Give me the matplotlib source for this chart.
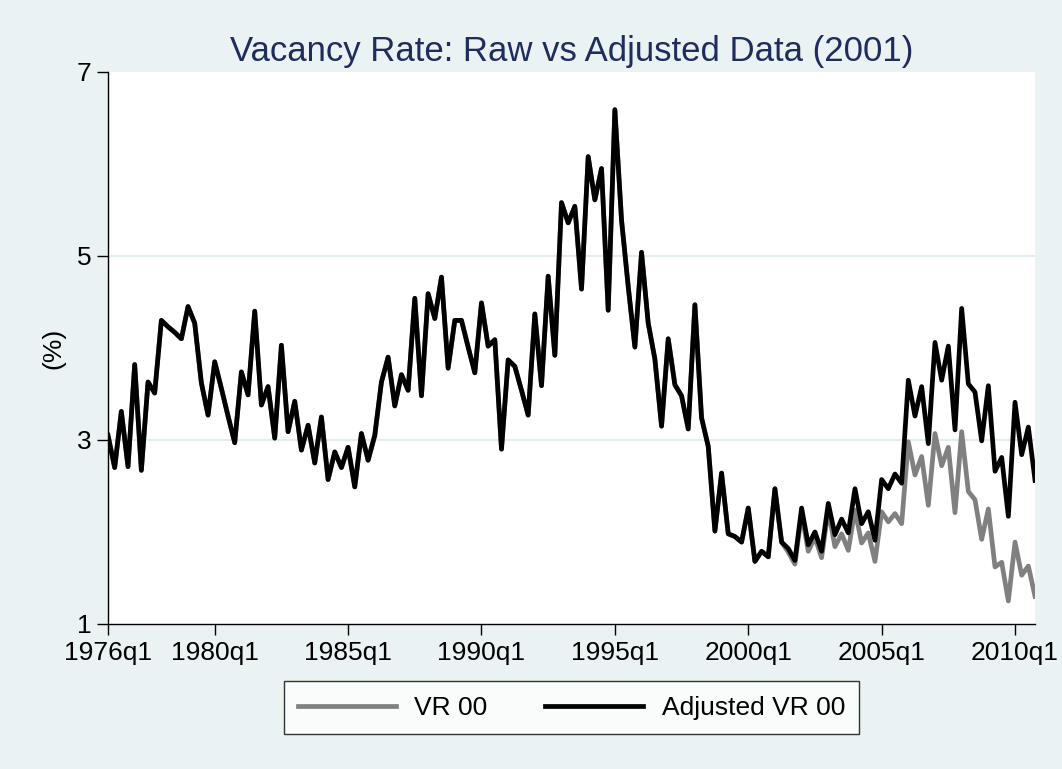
import matplotlib.pyplot as plt

# Quarterly vacancy rate, 1976q1 .. 2010q4 (140 quarters)
adjusted_vr00 = [
    3.05, 2.70, 3.31, 2.71, 3.82, 2.67, 3.63, 3.51, 4.30, 4.23,   # 1976q1-1978q2
    4.17, 4.10, 4.45, 4.27, 3.62, 3.27, 3.85, 3.56, 3.26, 2.97,   # 1978q3-1980q4
    3.74, 3.49, 4.40, 3.38, 3.58, 3.02, 4.03, 3.09, 3.42, 2.89,   # 1981q1-1983q2
    3.16, 2.75, 3.25, 2.57, 2.87, 2.70, 2.92, 2.49, 3.07, 2.78,   # 1983q3-1985q4
    3.05, 3.63, 3.90, 3.37, 3.71, 3.54, 4.54, 3.48, 4.59, 4.32,   # 1986q1-1988q2
    4.77, 3.78, 4.30, 4.30, 4.01, 3.73, 4.49, 4.02, 4.09, 2.90,   # 1988q3-1990q4
    3.87, 3.80, 3.54, 3.27, 4.37, 3.59, 4.78, 3.92, 5.58, 5.36,   # 1991q1-1993q2
    5.54, 4.64, 6.08, 5.61, 5.95, 4.41, 6.59, 5.39, 4.67, 4.01,   # 1993q3-1995q4
    5.04, 4.27, 3.88, 3.15, 4.10, 3.60, 3.48, 3.12, 4.47, 3.24,   # 1996q1-1998q2
    2.93, 2.01, 2.64, 1.98, 1.95, 1.89, 2.26, 1.68, 1.79, 1.73,   # 1998q3-2000q4
    2.47, 1.89, 1.82, 1.69, 2.26, 1.86, 2.00, 1.79, 2.31, 1.97,   # 2001q1-2003q2
    2.14, 1.99, 2.47, 2.09, 2.22, 1.91, 2.57, 2.47, 2.63, 2.53,   # 2003q3-2005q4
    3.65, 3.26, 3.58, 2.96, 4.06, 3.65, 4.02, 3.11, 4.43, 3.61,   # 2006q1-2008q2
    3.52, 2.99, 3.59, 2.66, 2.81, 2.17, 3.41, 2.84, 3.14, 2.56,   # 2008q3-2010q4
]

# raw series matches the adjusted one until 2001q3, then drifts lower
split_q = 102
vr00_tail = [
    1.78, 1.65, 2.20, 1.79, 1.94, 1.72, 2.24, 1.84,               # 2001q3-2003q2
    1.98, 1.80, 2.24, 1.88, 1.99, 1.68, 2.22, 2.11, 2.20, 2.09,   # 2003q3-2005q4
    2.98, 2.62, 2.82, 2.29, 3.07, 2.72, 2.92, 2.21, 3.09, 2.44,   # 2006q1-2008q2
    2.35, 1.92, 2.25, 1.62, 1.67, 1.25, 1.89, 1.53, 1.63, 1.30,   # 2008q3-2010q4
]
vr00 = adjusted_vr00[:split_q] + vr00_tail

tick_labels = ['1976q1', '1980q1', '1985q1', '1990q1', '1995q1',
               '2000q1', '2005q1', '2010q1']
tick_pos = [(int(lbl[:4]) - 1976) * 4 for lbl in tick_labels]

quarters = list(range(len(adjusted_vr00)))

bg = '#EAF2F3'
plt.rcParams['font.family'] = ['Liberation Sans', 'DejaVu Sans']

fig = plt.figure(figsize=(10.62, 7.69), dpi=100, facecolor=bg)
ax = fig.add_axes([0.1017, 0.1886, 0.8729, 0.7178])
ax.set_facecolor('white')

ax.plot(quarters, vr00, color='#808080', linewidth=3.4, label='VR 00',
        solid_joinstyle='round')
ax.plot(quarters, adjusted_vr00, color='black', linewidth=3.4,
        label='Adjusted VR 00', solid_joinstyle='round')

ax.set_xlim(0, len(quarters) - 1)
ax.set_ylim(1, 7)
ax.set_yticks([1, 3, 5, 7])
ax.set_xticks(tick_pos)
ax.set_xticklabels(tick_labels)

for y in [3, 5]:
    ax.axhline(y, color='#E2ECEE', linewidth=1.5, zorder=0)

for side in ['top', 'right']:
    ax.spines[side].set_visible(False)
for side in ['left', 'bottom']:
    ax.spines[side].set_color('black')
    ax.spines[side].set_linewidth(1.0)

ax.tick_params(axis='both', direction='out', length=8, width=1,
               labelsize=19, colors='black', pad=4)
ax.set_ylabel('(%)', fontsize=19, labelpad=8)

ax.set_title('Vacancy Rate: Raw vs Adjusted Data (2001)', fontsize=25,
             color='#1F2D5C', pad=8)

leg = ax.legend(loc='center', bbox_to_anchor=(0.5, -0.152), ncol=2,
                fontsize=19, frameon=True, fancybox=False,
                handlelength=3.7, columnspacing=2.2, borderpad=0.55,
                handletextpad=0.7)
leg.get_frame().set_edgecolor('black')
leg.get_frame().set_linewidth(1.0)

fig.savefig('out.png', dpi=100, facecolor=bg)
